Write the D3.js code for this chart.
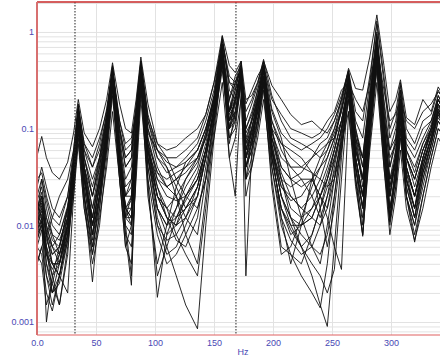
<!DOCTYPE html>
<html>
<head>
<meta charset="utf-8">
<script src="https://cdn.jsdelivr.net/npm/d3@7"></script>
<style>
  html, body { margin: 0; padding: 0; background: #fff; }
  svg { display: block; }
</style>
</head>
<body>
<div id="chart"></div>
<script>
// Frequency points (Hz) shared by all channels
const freqs = [0, 4, 8, 13, 19, 26, 31, 35, 40, 47,
  53, 59, 64, 70, 75, 80, 84, 88, 94, 102,
  110, 118, 126, 136, 143, 150, 157, 163, 168, 173,
  177, 182, 187, 192, 199, 207, 215, 224, 233, 240,
  246, 252, 258, 264, 270, 276, 282, 288, 294, 299,
  304, 308, 313, 320, 327, 334, 340, 346];

const frf01 = [0.052, 0.083, 0.05, 0.035, 0.03, 0.045, 0.09, 0.2, 0.09, 0.065,
  0.1, 0.2, 0.48, 0.18, 0.1, 0.09, 0.2, 0.55, 0.18, 0.07,
  0.06, 0.065, 0.08, 0.1, 0.14, 0.3, 0.92, 0.45, 0.38, 0.5,
  0.2, 0.22, 0.3, 0.5, 0.28, 0.2, 0.14, 0.11, 0.12, 0.1,
  0.09, 0.12, 0.2, 0.42, 0.26, 0.25, 0.55, 1.5, 0.45, 0.15,
  0.2, 0.32, 0.13, 0.11, 0.2, 0.15, 0.27, 0.2];
const frf02 = [0.03, 0.035, 0.02, 0.012, 0.01, 0.02, 0.06, 0.18, 0.06, 0.03,
  0.05, 0.12, 0.42, 0.1, 0.05, 0.06, 0.15, 0.5, 0.12, 0.05,
  0.035, 0.04, 0.05, 0.07, 0.12, 0.25, 0.85, 0.3, 0.25, 0.48,
  0.12, 0.18, 0.28, 0.48, 0.16, 0.09, 0.07, 0.06, 0.07, 0.08,
  0.1, 0.14, 0.22, 0.4, 0.15, 0.12, 0.35, 1.2, 0.3, 0.08,
  0.12, 0.28, 0.08, 0.06, 0.1, 0.12, 0.22, 0.16];
const frf03 = [0.009, 0.012, 0.001, 0.003, 0.006, 0.015, 0.04, 0.15, 0.03, 0.008,
  0.02, 0.08, 0.35, 0.05, 0.012, 0.02, 0.1, 0.42, 0.06, 0.015,
  0.008, 0.01, 0.02, 0.035, 0.07, 0.18, 0.7, 0.12, 0.2, 0.4,
  0.06, 0.12, 0.2, 0.42, 0.08, 0.035, 0.02, 0.015, 0.02, 0.03,
  0.05, 0.08, 0.15, 0.35, 0.06, 0.03, 0.2, 0.9, 0.12, 0.02,
  0.06, 0.2, 0.03, 0.015, 0.05, 0.1, 0.18, 0.12];
const frf04 = [0.012, 0.03, 0.015, 0.008, 0.005, 0.01, 0.035, 0.12, 0.02, 0.0026,
  0.015, 0.07, 0.3, 0.06, 0.02, 0.025, 0.1, 0.38, 0.07, 0.025,
  0.012, 0.007, 0.006, 0.012, 0.04, 0.12, 0.6, 0.1, 0.14, 0.35,
  0.05, 0.09, 0.16, 0.35, 0.06, 0.02, 0.01, 0.006, 0.008, 0.015,
  0.03, 0.06, 0.12, 0.3, 0.05, 0.02, 0.15, 0.7, 0.1, 0.03,
  0.05, 0.15, 0.04, 0.02, 0.04, 0.08, 0.14, 0.1];
const frf05 = [0.015, 0.02, 0.008, 0.004, 0.003, 0.008, 0.03, 0.1, 0.03, 0.012,
  0.03, 0.1, 0.4, 0.04, 0.008, 0.0024, 0.05, 0.3, 0.08, 0.03,
  0.02, 0.018, 0.02, 0.03, 0.06, 0.15, 0.5, 0.15, 0.3, 0.5,
  0.1, 0.15, 0.25, 0.45, 0.1, 0.04, 0.03, 0.025, 0.03, 0.02,
  0.015, 0.04, 0.1, 0.25, 0.04, 0.015, 0.1, 0.6, 0.08, 0.012,
  0.04, 0.12, 0.02, 0.01, 0.03, 0.07, 0.15, 0.1];
const frf06 = [0.008, 0.012, 0.006, 0.002, 0.004, 0.012, 0.04, 0.14, 0.04, 0.015,
  0.04, 0.12, 0.45, 0.07, 0.025, 0.03, 0.12, 0.45, 0.03, 0.0018,
  0.008, 0.015, 0.025, 0.04, 0.09, 0.22, 0.75, 0.2, 0.12, 0.3,
  0.04, 0.06, 0.12, 0.3, 0.05, 0.015, 0.008, 0.01, 0.015, 0.025,
  0.04, 0.07, 0.18, 0.38, 0.1, 0.05, 0.25, 1.0, 0.15, 0.04,
  0.08, 0.25, 0.05, 0.03, 0.06, 0.1, 0.2, 0.14];
const frf07 = [0.006, 0.009, 0.003, 0.0015, 0.003, 0.01, 0.035, 0.13, 0.035, 0.01,
  0.025, 0.09, 0.38, 0.06, 0.015, 0.015, 0.08, 0.4, 0.05, 0.012,
  0.006, 0.003, 0.0015, 0.00085, 0.01, 0.08, 0.55, 0.08, 0.1, 0.3,
  0.03, 0.08, 0.18, 0.4, 0.07, 0.02, 0.012, 0.01, 0.012, 0.02,
  0.03, 0.05, 0.1, 0.28, 0.04, 0.01, 0.1, 0.5, 0.06, 0.015,
  0.03, 0.1, 0.025, 0.012, 0.03, 0.06, 0.12, 0.09];
const frf08 = [0.01, 0.016, 0.007, 0.005, 0.006, 0.014, 0.05, 0.16, 0.05, 0.02,
  0.05, 0.14, 0.4, 0.08, 0.03, 0.04, 0.13, 0.48, 0.1, 0.04,
  0.025, 0.03, 0.04, 0.06, 0.1, 0.2, 0.65, 0.2, 0.35, 0.45,
  0.003, 0.06, 0.2, 0.5, 0.1, 0.03, 0.012, 0.006, 0.003, 0.0015,
  0.0009, 0.006, 0.05, 0.35, 0.05, 0.02, 0.15, 0.8, 0.1, 0.02,
  0.05, 0.18, 0.035, 0.02, 0.05, 0.09, 0.17, 0.12];
const frf09 = [0.007, 0.01, 0.004, 0.0025, 0.0015, 0.006, 0.025, 0.09, 0.02, 0.006,
  0.018, 0.07, 0.25, 0.04, 0.012, 0.012, 0.06, 0.28, 0.04, 0.01,
  0.005, 0.006, 0.01, 0.02, 0.05, 0.13, 0.45, 0.07, 0.15, 0.3,
  0.04, 0.06, 0.1, 0.25, 0.03, 0.006, 0.005, 0.003, 0.002, 0.0014,
  0.004, 0.02, 0.07, 0.2, 0.03, 0.012, 0.08, 0.45, 0.05, 0.01,
  0.025, 0.08, 0.02, 0.008, 0.02, 0.05, 0.1, 0.08];
const frf10 = [0.02, 0.03, 0.018, 0.01, 0.008, 0.015, 0.05, 0.17, 0.07, 0.04,
  0.07, 0.16, 0.44, 0.12, 0.06, 0.07, 0.18, 0.5, 0.14, 0.06,
  0.045, 0.04, 0.045, 0.06, 0.1, 0.22, 0.8, 0.35, 0.3, 0.42,
  0.15, 0.2, 0.3, 0.52, 0.22, 0.12, 0.08, 0.07, 0.06, 0.05,
  0.06, 0.1, 0.2, 0.38, 0.12, 0.08, 0.3, 1.3, 0.35, 0.1,
  0.15, 0.3, 0.1, 0.07, 0.12, 0.14, 0.25, 0.18];
const frf11 = [0.004, 0.006, 0.003, 0.002, 0.003, 0.007, 0.02, 0.07, 0.015, 0.005,
  0.012, 0.04, 0.15, 0.03, 0.008, 0.006, 0.03, 0.2, 0.03, 0.008,
  0.004, 0.005, 0.008, 0.015, 0.03, 0.08, 0.3, 0.05, 0.08, 0.2,
  0.02, 0.04, 0.08, 0.2, 0.04, 0.012, 0.007, 0.005, 0.006, 0.01,
  0.02, 0.035, 0.07, 0.15, 0.025, 0.008, 0.06, 0.3, 0.04, 0.008,
  0.02, 0.06, 0.015, 0.007, 0.015, 0.04, 0.08, 0.06];
const frf12 = [0.011, 0.014, 0.006, 0.003, 0.0015, 0.005, 0.03, 0.11, 0.025, 0.008,
  0.02, 0.08, 0.32, 0.05, 0.015, 0.018, 0.07, 0.33, 0.05, 0.015,
  0.01, 0.012, 0.018, 0.03, 0.06, 0.16, 0.6, 0.1, 0.18, 0.38,
  0.06, 0.1, 0.17, 0.38, 0.07, 0.025, 0.018, 0.02, 0.03, 0.04,
  0.05, 0.08, 0.16, 0.33, 0.08, 0.04, 0.2, 0.95, 0.18, 0.05,
  0.07, 0.2, 0.05, 0.03, 0.06, 0.09, 0.18, 0.13];
const frf13 = [0.013, 0.02, 0.01, 0.006, 0.004, 0.008, 0.025, 0.08, 0.015, 0.004,
  0.01, 0.05, 0.22, 0.03, 0.006, 0.004, 0.04, 0.25, 0.06, 0.03,
  0.025, 0.03, 0.035, 0.05, 0.08, 0.2, 0.9, 0.25, 0.2, 0.35,
  0.08, 0.12, 0.22, 0.4, 0.12, 0.07, 0.05, 0.04, 0.035, 0.03,
  0.025, 0.03, 0.06, 0.2, 0.06, 0.03, 0.15, 0.65, 0.12, 0.03,
  0.04, 0.12, 0.03, 0.015, 0.04, 0.08, 0.16, 0.11];
const frf14 = [0.018, 0.025, 0.012, 0.007, 0.006, 0.012, 0.04, 0.13, 0.04, 0.015,
  0.03, 0.1, 0.36, 0.07, 0.02, 0.02, 0.09, 0.4, 0.05, 0.015,
  0.01, 0.015, 0.03, 0.05, 0.09, 0.2, 0.7, 0.15, 0.25, 0.45,
  0.09, 0.12, 0.2, 0.4, 0.08, 0.04, 0.03, 0.035, 0.05, 0.07,
  0.08, 0.12, 0.2, 0.4, 0.1, 0.04, 0.2, 0.8, 0.2, 0.06,
  0.1, 0.25, 0.06, 0.04, 0.07, 0.11, 0.22, 0.15];
const frf15 = [0.005, 0.004, 0.0015, 0.0025, 0.005, 0.012, 0.045, 0.16, 0.04, 0.012,
  0.035, 0.11, 0.4, 0.06, 0.015, 0.01, 0.05, 0.35, 0.07, 0.02,
  0.012, 0.01, 0.012, 0.02, 0.05, 0.15, 0.55, 0.12, 0.2, 0.42,
  0.05, 0.07, 0.15, 0.35, 0.05, 0.015, 0.009, 0.006, 0.004, 0.003,
  0.002, 0.0035, 0.03, 0.25, 0.04, 0.015, 0.12, 0.55, 0.07, 0.012,
  0.035, 0.14, 0.03, 0.015, 0.035, 0.07, 0.14, 0.1];
const frf16 = [0.009, 0.015, 0.008, 0.004, 0.004, 0.01, 0.035, 0.12, 0.03, 0.01,
  0.025, 0.09, 0.34, 0.05, 0.012, 0.01, 0.06, 0.35, 0.06, 0.02,
  0.015, 0.02, 0.03, 0.045, 0.08, 0.18, 0.6, 0.05, 0.02, 0.25,
  0.05, 0.1, 0.2, 0.45, 0.08, 0.03, 0.015, 0.012, 0.015, 0.02,
  0.03, 0.06, 0.12, 0.3, 0.07, 0.03, 0.2, 0.75, 0.1, 0.025,
  0.05, 0.16, 0.04, 0.02, 0.045, 0.08, 0.15, 0.11];
const frf17 = [0.01, 0.02, 0.012, 0.008, 0.007, 0.012, 0.04, 0.14, 0.04, 0.02,
  0.045, 0.12, 0.4, 0.05, 0.01, 0.003, 0.04, 0.32, 0.06, 0.025,
  0.015, 0.008, 0.005, 0.003, 0.015, 0.1, 0.5, 0.12, 0.15, 0.3,
  0.04, 0.08, 0.15, 0.35, 0.06, 0.02, 0.012, 0.008, 0.006, 0.005,
  0.008, 0.02, 0.08, 0.3, 0.05, 0.02, 0.12, 0.6, 0.07, 0.015,
  0.04, 0.15, 0.04, 0.02, 0.05, 0.09, 0.16, 0.12];
const frf18 = [0.007, 0.011, 0.005, 0.003, 0.004, 0.01, 0.03, 0.11, 0.025, 0.007,
  0.02, 0.07, 0.28, 0.04, 0.012, 0.015, 0.06, 0.3, 0.025, 0.003,
  0.006, 0.012, 0.02, 0.03, 0.06, 0.14, 0.5, 0.1, 0.12, 0.3,
  0.03, 0.05, 0.12, 0.3, 0.04, 0.01, 0.005, 0.004, 0.008, 0.015,
  0.025, 0.045, 0.1, 0.25, 0.04, 0.015, 0.1, 0.5, 0.06, 0.012,
  0.03, 0.1, 0.02, 0.01, 0.025, 0.06, 0.12, 0.09];
const frf19 = [0.015, 0.022, 0.01, 0.006, 0.005, 0.01, 0.035, 0.14, 0.05, 0.025,
  0.05, 0.13, 0.42, 0.1, 0.04, 0.05, 0.15, 0.45, 0.1, 0.05,
  0.04, 0.025, 0.015, 0.02, 0.05, 0.17, 0.65, 0.15, 0.2, 0.4,
  0.07, 0.1, 0.18, 0.42, 0.12, 0.06, 0.04, 0.04, 0.05, 0.06,
  0.07, 0.1, 0.16, 0.36, 0.09, 0.05, 0.22, 0.85, 0.15, 0.04,
  0.07, 0.22, 0.06, 0.035, 0.07, 0.1, 0.2, 0.14];
const frf20 = [0.008, 0.01, 0.005, 0.004, 0.003, 0.002, 0.02, 0.1, 0.02, 0.006,
  0.015, 0.06, 0.26, 0.04, 0.015, 0.02, 0.08, 0.36, 0.06, 0.02,
  0.012, 0.01, 0.015, 0.025, 0.06, 0.16, 0.6, 0.15, 0.22, 0.38,
  0.06, 0.09, 0.15, 0.32, 0.06, 0.025, 0.02, 0.015, 0.012, 0.01,
  0.015, 0.03, 0.08, 0.22, 0.03, 0.008, 0.07, 0.4, 0.04, 0.011,
  0.025, 0.09, 0.02, 0.0067, 0.02, 0.05, 0.1, 0.08];
const frf21 = [0.025, 0.04, 0.025, 0.015, 0.012, 0.02, 0.05, 0.16, 0.07, 0.05,
  0.08, 0.15, 0.38, 0.12, 0.07, 0.08, 0.15, 0.42, 0.12, 0.06,
  0.05, 0.05, 0.06, 0.08, 0.14, 0.3, 0.75, 0.3, 0.28, 0.4,
  0.18, 0.25, 0.35, 0.45, 0.2, 0.14, 0.1, 0.09, 0.08, 0.09,
  0.12, 0.15, 0.25, 0.3, 0.2, 0.15, 0.3, 0.7, 0.25, 0.12,
  0.14, 0.2, 0.12, 0.1, 0.15, 0.18, 0.24, 0.2];
const frf22 = [0.006, 0.005, 0.002, 0.0013, 0.003, 0.008, 0.03, 0.12, 0.03, 0.01,
  0.025, 0.08, 0.3, 0.05, 0.015, 0.012, 0.05, 0.3, 0.04, 0.01,
  0.007, 0.008, 0.012, 0.025, 0.06, 0.15, 0.55, 0.1, 0.15, 0.35,
  0.04, 0.07, 0.13, 0.3, 0.05, 0.015, 0.01, 0.01, 0.012, 0.02,
  0.035, 0.06, 0.12, 0.28, 0.05, 0.02, 0.15, 0.7, 0.09, 0.02,
  0.045, 0.14, 0.035, 0.015, 0.035, 0.07, 0.13, 0.1];
const frf23 = [0.014, 0.018, 0.009, 0.005, 0.006, 0.015, 0.045, 0.15, 0.05, 0.02,
  0.04, 0.11, 0.38, 0.09, 0.04, 0.05, 0.14, 0.45, 0.09, 0.06,
  0.04, 0.02, 0.008, 0.004, 0.02, 0.12, 0.4, 0.1, 0.2, 0.4,
  0.1, 0.14, 0.22, 0.4, 0.15, 0.08, 0.03, 0.012, 0.006, 0.004,
  0.01, 0.03, 0.09, 0.3, 0.05, 0.015, 0.12, 0.7, 0.09, 0.015,
  0.03, 0.12, 0.025, 0.012, 0.04, 0.08, 0.16, 0.12];
const frf24 = [0.01, 0.013, 0.005, 0.0035, 0.005, 0.01, 0.03, 0.1, 0.02, 0.005,
  0.02, 0.08, 0.3, 0.04, 0.01, 0.008, 0.05, 0.3, 0.02, 0.004,
  0.01, 0.025, 0.045, 0.06, 0.1, 0.2, 0.55, 0.15, 0.25, 0.35,
  0.03, 0.04, 0.1, 0.28, 0.025, 0.005, 0.006, 0.012, 0.025, 0.04,
  0.06, 0.09, 0.15, 0.32, 0.07, 0.025, 0.15, 0.6, 0.1, 0.025,
  0.05, 0.18, 0.05, 0.025, 0.05, 0.1, 0.2, 0.14];
const frf25 = [0.012, 0.017, 0.008, 0.006, 0.008, 0.016, 0.045, 0.15, 0.035, 0.008,
  0.03, 0.1, 0.33, 0.05, 0.02, 0.03, 0.11, 0.4, 0.08, 0.035,
  0.03, 0.035, 0.04, 0.05, 0.08, 0.18, 0.62, 0.14, 0.18, 0.33,
  0.07, 0.13, 0.25, 0.45, 0.06, 0.012, 0.004, 0.01, 0.03, 0.05,
  0.07, 0.08, 0.12, 0.25, 0.08, 0.05, 0.18, 0.55, 0.12, 0.06,
  0.08, 0.2, 0.07, 0.05, 0.08, 0.12, 0.2, 0.15];
const frf26 = [0.009, 0.011, 0.006, 0.004, 0.004, 0.009, 0.03, 0.12, 0.03, 0.012,
  0.03, 0.09, 0.3, 0.05, 0.015, 0.012, 0.07, 0.38, 0.05, 0.02,
  0.015, 0.012, 0.015, 0.025, 0.05, 0.15, 0.55, 0.12, 0.2, 0.4,
  0.05, 0.08, 0.15, 0.35, 0.06, 0.03, 0.025, 0.03, 0.03, 0.02,
  0.012, 0.006, 0.0035, 0.15, 0.03, 0.0077, 0.08, 0.5, 0.05, 0.011,
  0.04, 0.15, 0.03, 0.012, 0.035, 0.07, 0.15, 0.1];
const frf27 = [0.004, 0.006, 0.008, 0.012, 0.02, 0.03, 0.06, 0.17, 0.04, 0.01,
  0.02, 0.06, 0.28, 0.03, 0.006, 0.01, 0.06, 0.36, 0.07, 0.035,
  0.025, 0.02, 0.012, 0.008, 0.03, 0.14, 0.5, 0.08, 0.12, 0.32,
  0.05, 0.1, 0.2, 0.4, 0.09, 0.05, 0.04, 0.03, 0.02, 0.012,
  0.02, 0.05, 0.1, 0.26, 0.06, 0.03, 0.14, 0.65, 0.08, 0.02,
  0.05, 0.14, 0.04, 0.02, 0.045, 0.08, 0.15, 0.11];
const frf28 = [0.016, 0.012, 0.004, 0.002, 0.0025, 0.007, 0.03, 0.13, 0.06, 0.04,
  0.06, 0.14, 0.4, 0.1, 0.05, 0.06, 0.16, 0.48, 0.13, 0.07,
  0.05, 0.03, 0.02, 0.015, 0.03, 0.12, 0.5, 0.2, 0.3, 0.42,
  0.08, 0.07, 0.12, 0.3, 0.1, 0.07, 0.06, 0.05, 0.035, 0.015,
  0.006, 0.015, 0.06, 0.3, 0.08, 0.03, 0.18, 0.75, 0.12, 0.03,
  0.06, 0.16, 0.05, 0.03, 0.06, 0.1, 0.18, 0.13];

const channels = [frf01, frf02, frf03, frf04, frf05, frf06, frf07, frf08, frf09, frf10,
  frf11, frf12, frf13, frf14, frf15, frf16, frf17, frf18, frf19, frf20,
  frf21, frf22, frf23, frf24, frf25, frf26, frf27, frf28];

// Axis ticks and cursor markers
const xTicks = [0, 50, 100, 150, 200, 250, 300];
const yTicks = [1, 0.1, 0.01, 0.001];
const cursors = [32.2, 168.6];

const width = 440, height = 358;
const plotLeft = 37, plotTop = 2, plotBottom = 335;
const labelColor = "#4848b4";
const font = "'Liberation Sans', Arial, sans-serif";

const svg = d3.select("#chart").append("svg")
  .attr("width", width)
  .attr("height", height);

const x = d3.scaleLinear().domain([0, 341.5]).range([plotLeft, width]);
const y = d3.scaleLog().domain([0.000734, 2.04]).range([plotBottom, plotTop]);

svg.append("defs").append("clipPath").attr("id", "plot")
  .append("rect").attr("x", plotLeft).attr("y", plotTop)
  .attr("width", width - plotLeft).attr("height", plotBottom - plotTop);

// minor log grid (2..9 per decade)
const minor = [];
for (let e = -4; e <= 0; e++) {
  for (let m = 1; m <= 9; m++) {
    const v = m * Math.pow(10, e);
    if (v > 0.000734 && v < 2.04) minor.push(v);
  }
}
minor.push(2);

const yGrid = svg.append("g")
  .attr("transform", `translate(${plotLeft},0)`)
  .call(d3.axisLeft(y).tickValues(minor).tickSize(-(width - plotLeft)).tickFormat(""));
yGrid.select(".domain").remove();
yGrid.selectAll("line").attr("stroke", "#e2e2e2").attr("stroke-width", 1);

const xGrid = svg.append("g")
  .attr("transform", `translate(0,${plotBottom})`)
  .call(d3.axisBottom(x).tickValues(xTicks.slice(1)).tickSize(-(plotBottom - plotTop)).tickFormat(""));
xGrid.select(".domain").remove();
xGrid.selectAll("line").attr("stroke", "#e2e2e2").attr("stroke-width", 1);

// measurement lines
const line = d3.line()
  .x((d, i) => x(freqs[i]))
  .y(d => y(d));

svg.append("g").attr("clip-path", "url(#plot)")
  .selectAll("path")
  .data(channels)
  .join("path")
  .attr("d", line)
  .attr("fill", "none")
  .attr("stroke", "#111")
  .attr("stroke-width", 0.9)
  .attr("stroke-linejoin", "miter");

// dotted cursor lines
svg.selectAll(".cursor")
  .data(cursors)
  .join("line")
  .attr("class", "cursor")
  .attr("x1", d => x(d)).attr("x2", d => x(d))
  .attr("y1", plotTop).attr("y2", plotBottom)
  .attr("stroke", "#222")
  .attr("stroke-width", 1)
  .attr("stroke-dasharray", "1.5,1.5");

// frame
svg.append("line").attr("x1", plotLeft).attr("x2", width).attr("y1", plotTop).attr("y2", plotTop)
  .attr("stroke", "#c82828").attr("stroke-width", 1.5);
svg.append("line").attr("x1", plotLeft).attr("x2", width).attr("y1", plotBottom).attr("y2", plotBottom)
  .attr("stroke", "#e06060").attr("stroke-width", 1.2);
svg.append("line").attr("x1", plotLeft).attr("x2", plotLeft).attr("y1", plotTop).attr("y2", plotBottom)
  .attr("stroke", "#d87070").attr("stroke-width", 2);

// tick labels
const xAxis = svg.append("g")
  .attr("transform", `translate(0,${plotBottom})`)
  .call(d3.axisBottom(x).tickValues(xTicks).tickSize(0).tickPadding(5)
    .tickFormat(d => d === 0 ? "0.0" : d));
xAxis.select(".domain").remove();
xAxis.selectAll("text").attr("fill", labelColor).attr("font-size", 9).attr("font-family", font);

const yAxis = svg.append("g")
  .attr("transform", `translate(${plotLeft},0)`)
  .call(d3.axisLeft(y).tickValues(yTicks).tickSize(0).tickPadding(3)
    .tickFormat(d => String(d)));
yAxis.select(".domain").remove();
yAxis.selectAll("text").attr("fill", labelColor).attr("font-size", 9).attr("font-family", font);

svg.append("text")
  .attr("x", 243).attr("y", 355)
  .attr("text-anchor", "middle")
  .attr("fill", labelColor)
  .attr("font-size", 9)
  .attr("font-family", font)
  .text("Hz");
</script>
</body>
</html>
